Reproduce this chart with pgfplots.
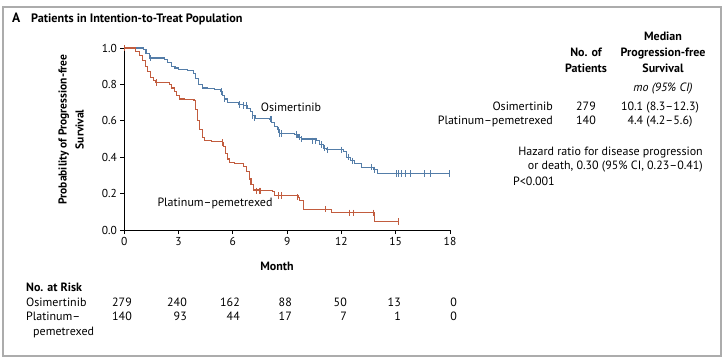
\documentclass[border=0pt]{standalone}
\usepackage{pgfplots}
\pgfplotsset{compat=1.18}
\usepackage{fontspec}
\setmainfont{PT Sans}
\definecolor{osi}{RGB}{84,125,168}
\definecolor{pla}{RGB}{194,92,62}
\newcommand\fs{\fontsize{12}{14}\selectfont}
\begin{document}
\begin{tikzpicture}[x=1pt,y=1pt]
\useasboundingbox (0,0) rectangle (727,359);
\draw[gray!65, line width=1.5pt] (3,3) rectangle (721,352);
\node[anchor=base west, font=\bfseries\fontsize{13.5}{15}\selectfont, inner sep=0] at (12,336) {A};
\node[anchor=base west, font=\bfseries\fontsize{12.2}{14}\selectfont, inner sep=0] at (31,336) {Patients in Intention-to-Treat Population};
\begin{axis}[at={(124.3pt,129pt)}, anchor=south west, scale only axis,
  width=325.7pt, height=182pt, xmin=0, xmax=18, ymin=0, ymax=1,
  axis lines=left, axis line style={-, line width=0.8pt},
  xtick={0,3,6,9,12,15,18}, ytick={0,0.2,0.4,0.6,0.8,1.0},
  tick align=outside, major tick length=4pt, tick style={black, line width=0.8pt},
  yticklabel style={/pgf/number format/.cd, fixed, fixed zerofill, precision=1},
  /pgf/number format/assume math mode=true,
  tick label style={font=\fontsize{11.5}{13}\selectfont},
  clip=false]
\addplot[const plot, osi, line width=1.1pt] coordinates {
(0,1.0) (1.05,0.99) (1.2,0.97) (1.4,0.945) (2.2,0.935) (2.4,0.92) (2.6,0.90) (2.8,0.89) (3.0,0.88)
(3.5,0.875) (3.8,0.86) (3.95,0.83) (4.1,0.80) (4.3,0.78) (4.6,0.775) (5.0,0.77) (5.3,0.76)
(5.45,0.74) (5.55,0.72) (5.7,0.70) (6.3,0.69) (6.6,0.685) (6.8,0.67) (6.95,0.65) (7.1,0.63)
(7.25,0.615) (8.0,0.61) (8.15,0.59) (8.3,0.57) (8.45,0.55) (8.6,0.53) (9.4,0.525) (9.6,0.51)
(9.8,0.50) (10.6,0.49) (10.8,0.47) (11.0,0.45) (11.2,0.44) (12.1,0.43) (12.3,0.40) (12.5,0.38)
(12.7,0.365) (13.1,0.345) (13.8,0.33) (14.0,0.31) (17.95,0.31)};
\addplot[only marks, osi, mark=|, mark size=3.2pt, mark options={line width=0.9pt}] coordinates {
(1.42,0.945) (5.35,0.76) (5.55,0.72) (6.39,0.69) (6.6,0.685) (6.76,0.685) (7.1,0.63) (7.2,0.615)
(8.05,0.61) (8.14,0.61) (8.5,0.55) (8.6,0.53) (8.7,0.53) (9.5,0.525) (9.7,0.51) (9.8,0.50)
(10.4,0.49) (10.55,0.49) (10.9,0.47) (11.05,0.45) (11.2,0.44) (12.0,0.44) (12.4,0.40) (12.6,0.38)
(13.67,0.345) (13.8,0.33) (15.05,0.31) (15.15,0.31) (15.3,0.31) (15.55,0.31) (15.8,0.31)
(16.6,0.31) (16.9,0.31) (17.95,0.31)};
\addplot[const plot, pla, line width=1.1pt] coordinates {
(0,1.0) (0.6,0.98) (0.85,0.96) (1.0,0.93) (1.15,0.90) (1.3,0.87) (1.45,0.84) (1.6,0.82) (1.75,0.81)
(2.5,0.80) (2.6,0.78) (2.75,0.76) (2.9,0.74) (3.05,0.72) (3.3,0.715) (3.85,0.71) (3.95,0.66)
(4.05,0.60) (4.15,0.55) (4.3,0.51) (4.45,0.49) (4.8,0.485) (5.45,0.48) (5.5,0.46) (5.6,0.42)
(5.7,0.39) (5.8,0.37) (6.1,0.365) (6.6,0.35) (6.75,0.32) (6.9,0.28) (7.0,0.25) (7.15,0.22)
(7.4,0.215) (8.2,0.21) (8.3,0.19) (9.6,0.18) (9.7,0.16) (9.9,0.115) (11.45,0.095) (13.85,0.046)
(15.15,0.046)};
\addplot[only marks, pla, mark=|, mark size=3.2pt, mark options={line width=0.9pt}] coordinates {
(0,1.0) (1.8,0.81) (5.4,0.48) (7.3,0.215) (7.45,0.215) (7.55,0.215) (8.5,0.19) (8.7,0.19)
(9.55,0.18) (11.1,0.115) (12.47,0.095) (12.65,0.095) (13.76,0.095) (15.15,0.046)};
\end{axis}
\node[font=\bfseries\fs] at (277,93) {Month};
\node[rotate=90, align=center, font=\bfseries\fontsize{11.5}{17}\selectfont] at (71,229.5) {Probability of Progression-free\\Survival};
\node[font=\fs] at (291,252) {Osimertinib};
\node[font=\fs] at (215,156) {Platinum--pemetrexed};
% right table
\begin{scope}[every node/.style={font=\fs, inner sep=0}]
\node[font=\bfseries\fs, anchor=mid] at (663,321) {Median};
\node[font=\bfseries\fs, anchor=mid] at (586,305) {No. of};
\node[font=\bfseries\fs, anchor=mid] at (663,305) {Progression-free};
\node[font=\bfseries\fs, anchor=mid] at (586,289) {Patients};
\node[font=\bfseries\fs, anchor=mid] at (663,289) {Survival};
\node[font=\itshape\fs, anchor=mid] at (663,270) {mo (95\% CI)};
\node[anchor=mid east] at (553,251) {Osimertinib};
\node[anchor=mid] at (586,251) {279};
\node[anchor=mid] at (660,251) {10.1 (8.3--12.3)};
\node[anchor=mid east] at (553,237) {Platinum--pemetrexed};
\node[anchor=mid] at (586,237) {140};
\node[anchor=mid] at (660,237) {4.4 (4.2--5.6)};
\node[anchor=mid east] at (703,206) {Hazard ratio for disease progression};
\node[anchor=mid east] at (703,192) {or death, 0.30 (95\% CI, 0.23--0.41)};
\node[anchor=mid west] at (513,176) {P<0.001};
% risk table
\node[font=\bfseries\fs, anchor=mid west] at (26,70) {No. at Risk};
\node[anchor=mid west] at (26,55) {Osimertinib};
\node[anchor=mid west] at (26,41) {Platinum--};
\node[anchor=mid west] at (33,26) {pemetrexed};
\foreach \x/\a/\b in {132/279/140, 187/240/93, 240/162/44, 292/88/17, 347/50/7, 401/13/1, 457/0/0} {
  \node[anchor=mid east] at (\x,55) {\a};
  \node[anchor=mid east] at (\x,41) {\b};
}
\end{scope}
\end{tikzpicture}
\end{document}
